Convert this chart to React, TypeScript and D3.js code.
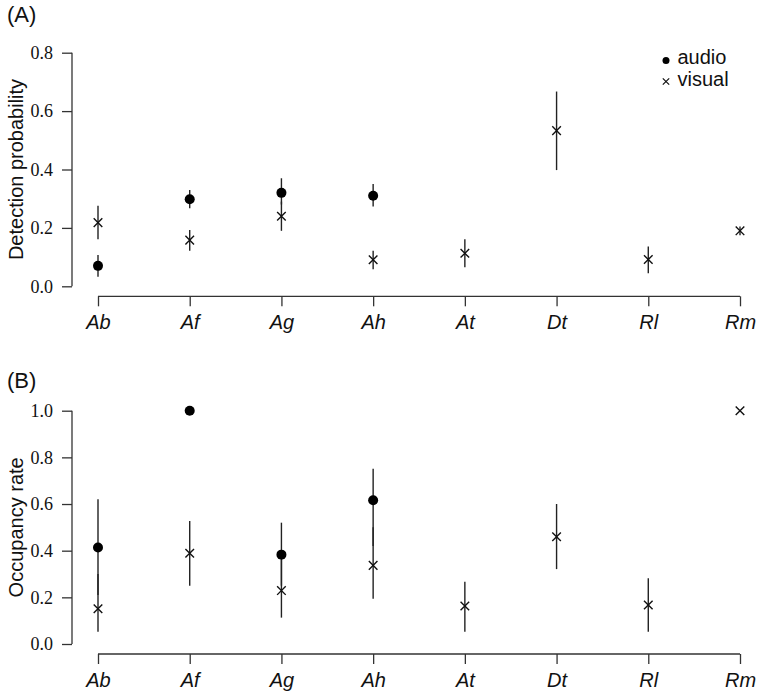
import React, { useRef, useEffect } from 'react';
import * as d3 from 'd3';

const species = ['Ab', 'Af', 'Ag', 'Ah', 'At', 'Dt', 'Rl', 'Rm'];

// panel A: detection probability
const detAudio = [
  { sp: 'Ab', v: 0.07, lo: 0.033, hi: 0.107 },
  { sp: 'Af', v: 0.298, lo: 0.267, hi: 0.33 },
  { sp: 'Ag', v: 0.32, lo: 0.28, hi: 0.37 },
  { sp: 'Ah', v: 0.31, lo: 0.273, hi: 0.35 },
];
const detVisual = [
  { sp: 'Ab', v: 0.218, lo: 0.161, hi: 0.276 },
  { sp: 'Af', v: 0.158, lo: 0.122, hi: 0.193 },
  { sp: 'Ag', v: 0.24, lo: 0.19, hi: 0.29 },
  { sp: 'Ah', v: 0.091, lo: 0.058, hi: 0.122 },
  { sp: 'At', v: 0.113, lo: 0.065, hi: 0.161 },
  { sp: 'Dt', v: 0.533, lo: 0.398, hi: 0.667 },
  { sp: 'Rl', v: 0.092, lo: 0.045, hi: 0.136 },
  { sp: 'Rm', v: 0.19, lo: 0.175, hi: 0.205 },
];

// panel B: occupancy rate
const occAudio = [
  { sp: 'Ab', v: 0.414, lo: 0.21, hi: 0.62 },
  { sp: 'Af', v: 1.0, lo: 1.0, hi: 1.0 },
  { sp: 'Ag', v: 0.383, lo: 0.25, hi: 0.52 },
  { sp: 'Ah', v: 0.616, lo: 0.42, hi: 0.751 },
];
const occVisual = [
  { sp: 'Ab', v: 0.151, lo: 0.053, hi: 0.3 },
  { sp: 'Af', v: 0.389, lo: 0.25, hi: 0.527 },
  { sp: 'Ag', v: 0.229, lo: 0.113, hi: 0.36 },
  { sp: 'Ah', v: 0.337, lo: 0.194, hi: 0.5 },
  { sp: 'At', v: 0.163, lo: 0.053, hi: 0.267 },
  { sp: 'Dt', v: 0.46, lo: 0.321, hi: 0.6 },
  { sp: 'Rl', v: 0.167, lo: 0.053, hi: 0.282 },
  { sp: 'Rm', v: 1.0, lo: 1.0, hi: 1.0 },
];

const ticksA = [0, 0.2, 0.4, 0.6, 0.8];
const ticksB = [0, 0.2, 0.4, 0.6, 0.8, 1.0];
const legendLabels = ['audio', 'visual'];

const W = 760;
const H = 695;
const SANS = "'Liberation Sans', Arial, sans-serif";
const SERIF = "'Liberation Serif', 'Times New Roman', serif";

const cross = (cx, cy, s) =>
  `M${cx - s},${cy - s}L${cx + s},${cy + s}M${cx - s},${cy + s}L${cx + s},${cy - s}`;

const drawPanel = (svg, opts) => {
  const { top, bottom, yMax, ticks, label, title, titleY, audio, visual, legend } = opts;
  const x = d3.scalePoint().domain(species).range([98, 740]);
  const y = d3.scaleLinear().domain([0, yMax]).range([bottom, top]);
  const g = svg.append('g');

  // y axis, R style (detached from x axis)
  const yAxis = g.append('g').attr('transform', 'translate(72,0)')
    .call(d3.axisLeft(y).tickValues(ticks).tickFormat(d3.format('.1f')).tickSizeOuter(0).tickSize(10).tickPadding(9));
  yAxis.select('.domain').attr('d', `M0,${y(0)}V${y(ticks[ticks.length - 1])}`).attr('stroke', '#333').attr('stroke-width', 1.3);
  yAxis.selectAll('.tick line').attr('stroke', '#333').attr('stroke-width', 1.3);
  yAxis.selectAll('.tick text')
    .style('font-family', SERIF)
    .style('font-size', '18px').attr('fill', '#111');

  // x axis
  const xAxis = g.append('g').attr('transform', `translate(0,${bottom + 10})`)
    .call(d3.axisBottom(x).tickSizeOuter(0).tickSize(10).tickPadding(9));
  xAxis.select('.domain').attr('d', 'M98,0H740').attr('stroke', '#333').attr('stroke-width', 1.3);
  xAxis.selectAll('.tick line').attr('stroke', '#333').attr('stroke-width', 1.3);
  xAxis.selectAll('.tick text')
    .style('font-family', SANS)
    .style('font-style', 'italic')
    .style('font-size', '20px').attr('fill', '#111');

  g.append('text')
    .attr('transform', `translate(23,${(top + bottom) / 2}) rotate(-90)`)
    .attr('text-anchor', 'middle')
    .style('font-family', SANS)
    .style('font-size', '20px').attr('fill', '#111')
    .text(label);

  g.append('text')
    .attr('x', 7).attr('y', titleY)
    .style('font-family', SANS)
    .style('font-size', '22px').attr('fill', '#111')
    .text(title);

  const bars = [...audio, ...visual].filter(d => d.hi > d.lo);
  g.selectAll('line.err').data(bars).enter().append('line')
    .attr('x1', d => x(d.sp)).attr('x2', d => x(d.sp))
    .attr('y1', d => y(d.lo)).attr('y2', d => y(d.hi))
    .attr('stroke', '#222').attr('stroke-width', 1.4);

  g.selectAll('circle.pt').data(audio).enter().append('circle')
    .attr('cx', d => x(d.sp)).attr('cy', d => y(d.v)).attr('r', 5)
    .attr('fill', '#000');

  g.selectAll('path.cross').data(visual).enter().append('path')
    .attr('d', d => cross(x(d.sp), y(d.v), 4.3))
    .attr('stroke', '#111').attr('stroke-width', 1.4).attr('fill', 'none');

  if (legend) {
    const lx = 666;
    g.append('circle').attr('cx', lx).attr('cy', 60.5).attr('r', 3.5).attr('fill', '#000');
    g.append('path').attr('d', cross(lx, 81.5, 3.2))
      .attr('stroke', '#111').attr('stroke-width', 1.2);
    legendLabels.forEach((t, i) => {
      g.append('text').attr('x', 677.5).attr('y', 63.5 + i * 22)
        .style('font-family', SANS)
        .style('font-size', '20px').attr('fill', '#111').text(t);
    });
  }
};

const App = () => {
  const ref = useRef(null);

  useEffect(() => {
    const svg = d3.select(ref.current);
    svg.selectAll('*').remove();

    drawPanel(svg, {
      top: 52.7, bottom: 286.3, yMax: 0.8, ticks: ticksA,
      label: 'Detection probability', title: '(A)', titleY: 22,
      audio: detAudio, visual: detVisual, legend: true,
    });
    drawPanel(svg, {
      top: 410.7, bottom: 644, yMax: 1.0, ticks: ticksB,
      label: 'Occupancy rate', title: '(B)', titleY: 388,
      audio: occAudio, visual: occVisual, legend: false,
    });

    return () => {
      d3.select(ref.current).selectAll('*').remove();
    };
  }, []);

  return (
    <svg ref={ref} width={W} height={H} style={{ position: 'absolute', left: 0, top: 0, background: '#fff' }}></svg>
  );
};

export default App;
